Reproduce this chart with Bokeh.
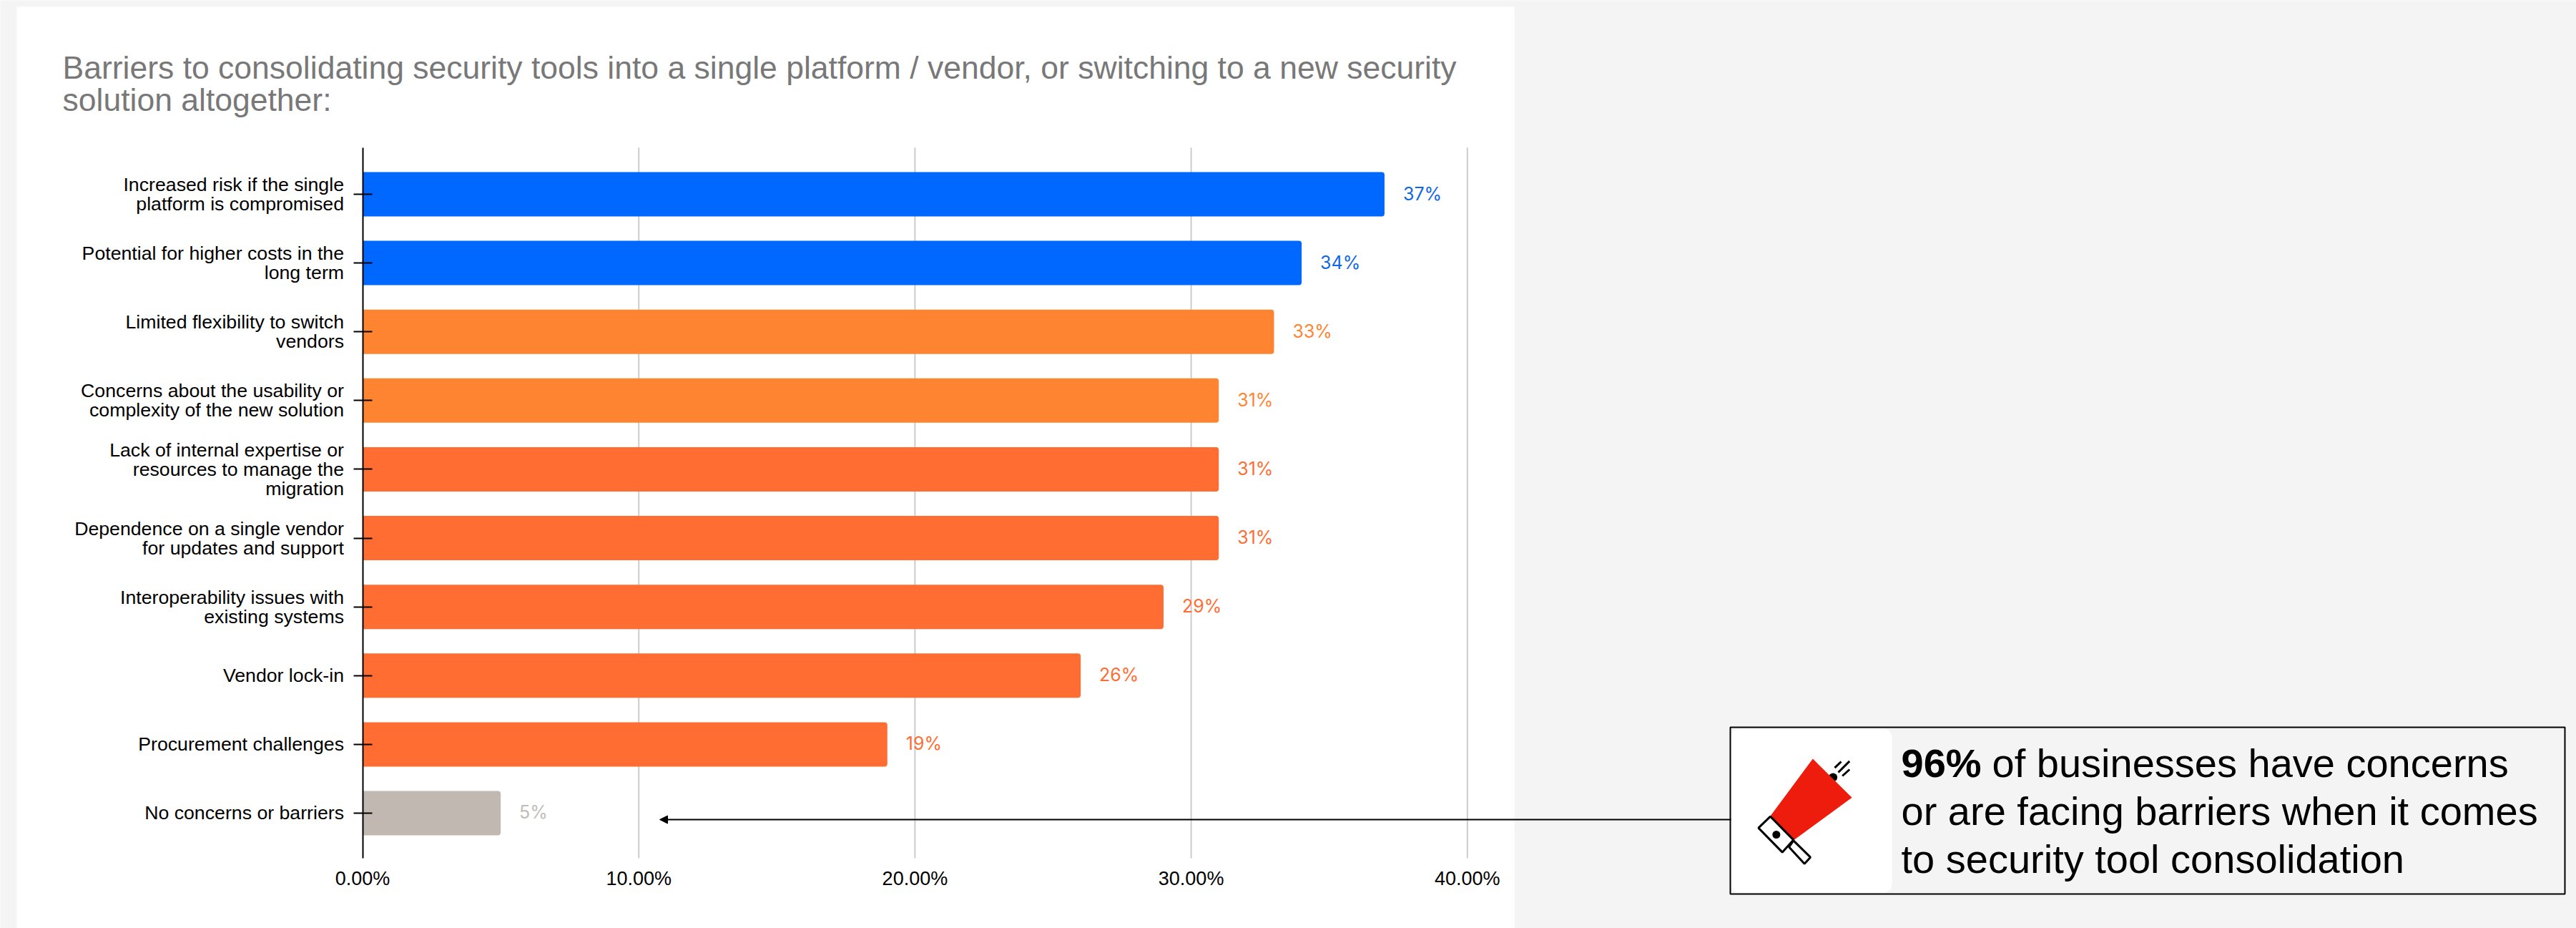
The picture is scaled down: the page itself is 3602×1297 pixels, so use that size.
from bokeh.plotting import figure
from bokeh.embed import file_html
from bokeh.resources import INLINE
from bokeh.models import Range1d, LinearAxis, FixedTicker, Label, Arrow, NormalHead
from bokeh.core.properties import value

categories = [
    "Increased risk if the single\nplatform is compromised",
    "Potential for higher costs in the\nlong term",
    "Limited flexibility to switch\nvendors",
    "Concerns about the usability or\ncomplexity of the new solution",
    "Lack of internal expertise or\nresources to manage the\nmigration",
    "Dependence on a single vendor\nfor updates and support",
    "Interoperability issues with\nexisting systems",
    "Vendor lock-in",
    "Procurement challenges",
    "No concerns or barriers",
]
values = [37, 34, 33, 31, 31, 31, 29, 26, 19, 5]
bar_colors = ["#0068FF", "#0068FF", "#FF8432", "#FF8432", "#FF6D33", "#FF6D33",
              "#FF6D33", "#FF6D33", "#FF6D33", "#C2B8B2"]
label_colors = ["#1166E8", "#1166E8", "#FF8432", "#FF8432", "#FF6D33", "#FF6D33",
                "#FF6D33", "#FF6D33", "#FF6D33", "#C2BCB7"]
x_ticks = [0, 10, 20, 30, 40]
x_tick_labels = ["0.00%", "10.00%", "20.00%", "30.00%", "40.00%"]
title_lines = [
    "Barriers to consolidating security tools into a single platform / vendor, or switching to a new security",
    "solution altogether:",
]
callout_bold = "96%"
callout_lines = ["of businesses have concerns", "or are facing barriers when it comes", "to security tool consolidation"]

W, H = 3602, 1297
FONT = "Liberation Sans"
X0, XU = 506.5, 38.62    # image px of 0 %, px per 1 %
Y0, YU = 271.0, 96.11    # image px of first bar centre, px per bar


def X(px):
    return (px - X0) / XU


def Y(py):
    return (py - Y0) / YU


p = figure(width=W, height=H, output_backend="svg", toolbar_location=None,
           x_range=Range1d(X(0), X(W)), y_range=Range1d(Y(H), Y(0)),
           x_axis_type=None, y_axis_type=None, min_border=0,
           background_fill_color="#F4F4F4", border_fill_color="#F4F4F4")
p.outline_line_color = None
p.xgrid.visible = False
p.ygrid.visible = False

# white chart panel
p.quad(left=X(23), right=X(2117), top=Y(9), bottom=Y(H), fill_color="white", line_color=None)

# grid
PLOT_TOP, PLOT_BOTTOM = Y(205.7), Y(1199)
p.segment(x0=x_ticks[1:], x1=x_ticks[1:], y0=PLOT_TOP, y1=PLOT_BOTTOM, line_color="#CCCCCC", line_width=2)

# bars
idx = list(range(len(categories)))
src = dict(y=idx, v=values, c=bar_colors, lc=label_colors, t=[f"{v}%" for v in values])
p.hbar(y="y", left=0, right="v", height=0.645, fill_color="c", line_color=None,
       border_radius=(0, 4, 4, 0), source=src)
p.text(x="v", y="y", text="t", text_color="lc", text_font=value("Inter"), text_font_size="25px",
       text_align="left", text_baseline="middle", x_offset=26, y_offset=-1, source=src)

# axes
ya = LinearAxis(fixed_location=0, ticker=FixedTicker(ticks=idx),
                major_label_overrides={i: c for i, c in enumerate(categories)})
ya.bounds = (PLOT_TOP, PLOT_BOTTOM)
ya.axis_line_color = "black"
ya.axis_line_width = 2
ya.major_tick_line_color = "black"
ya.major_tick_line_width = 2
ya.major_tick_out = 13
ya.major_tick_in = 13
ya.minor_tick_line_color = None
ya.major_label_standoff = 13
ya.major_label_text_font = FONT
ya.major_label_text_font_size = "26.7px"
ya.major_label_text_color = "black"
ya.major_label_text_line_height = 0.9
p.add_layout(ya, "left")

xa = LinearAxis(fixed_location=PLOT_BOTTOM, ticker=FixedTicker(ticks=x_ticks),
                major_label_overrides={t: l for t, l in zip(x_ticks, x_tick_labels)})
xa.axis_line_color = None
xa.major_tick_line_color = None
xa.minor_tick_line_color = None
xa.major_tick_out = 0
xa.major_tick_in = 0
xa.major_label_standoff = 13
xa.major_label_text_font = FONT
xa.major_label_text_font_size = "27px"
xa.major_label_text_color = "black"
p.add_layout(xa, "below")


def label(px, py, text, size, color="black", style="normal"):
    # py is the wanted baseline; the label box sits lower than that by about a third of the font size
    p.add_layout(Label(x=X(px), y=Y(py - 0.32 * size), text=text, text_font=FONT, text_font_size=f"{size}px",
                       text_color=color, text_font_style=style, text_baseline="alphabetic",
                       text_align="left"))


# title
label(87, 108, title_lines[0], 44.5, "#787878")
label(87, 153, title_lines[1], 44.5, "#787878")

# arrow from callout to "No concerns"
p.add_layout(Arrow(x_start=X(2420), y_start=Y(1145), x_end=X(922), y_end=Y(1145), line_color="black", line_width=2,
                   end=NormalHead(size=11, fill_color="black", line_color="black", line_width=1)))

# callout box
p.quad(left=X(2420), right=X(2645), top=Y(1018), bottom=Y(1247), fill_color="white", line_color=None, border_radius=12)
p.quad(left=X(2419), right=X(3586), top=Y(1016), bottom=Y(1249), fill_color=None, line_color="black", line_width=2)


# icon (image pixels, from the 3x crop)
def ix(v):
    return X(2420 + v / 3)


def iy(v):
    return Y(1010 + v / 3)


p.scatter(x=[ix(428)], y=[iy(228)], size=12, fill_color="black", line_color=None)
p.patch(x=[ix(a) for a in (343, 507, 265, 165)], y=[iy(a) for a in (150, 313, 490, 390)],
        fill_color="#EE1C0C", line_color=None)
p.patch(x=[ix(a) for a in (165, 262, 215, 115)], y=[iy(a) for a in (392, 490, 542, 440)],
        fill_color="white", line_color="black", line_width=3)
p.patch(x=[ix(a) for a in (262, 333, 308, 243)], y=[iy(a) for a in (493, 563, 590, 520)],
        fill_color="white", line_color="black", line_width=3)
p.scatter(x=[ix(190)], y=[iy(468)], size=11, fill_color="black", line_color=None)
p.multi_line(xs=[[ix(435), ix(462)], [ix(450), ix(497)], [ix(467), ix(497)]],
             ys=[[iy(188), iy(162)], [iy(207), iy(160)], [iy(222), iy(195)]],
             line_color="black", line_width=3)

# callout text
label(2658, 1084, callout_bold, 56, style="bold")
label(2785, 1084, callout_lines[0], 56)
label(2658, 1151, callout_lines[1], 56)
label(2658, 1218, callout_lines[2], 56)

open("out.html", "w").write(file_html(p, INLINE))
